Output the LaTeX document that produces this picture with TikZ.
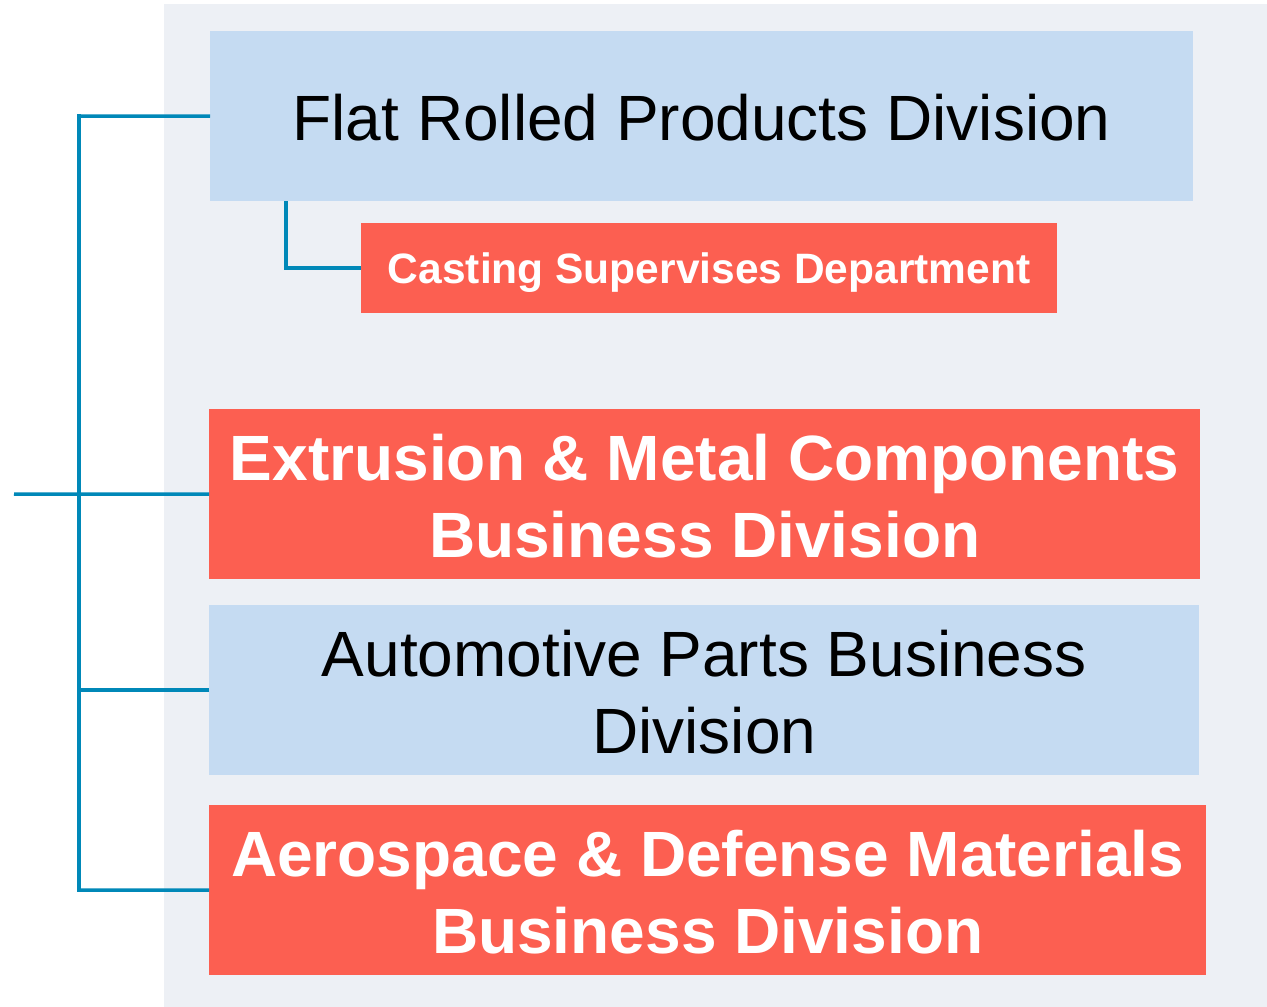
\documentclass[tikz,border=0pt]{standalone}
\usepackage{fontspec}
\setmainfont{Liberation Sans}
\definecolor{panel}{HTML}{EDF0F5}
\definecolor{lblue}{HTML}{C5DBF2}
\definecolor{lred}{HTML}{FC5F51}
\definecolor{lineblue}{HTML}{0088B8}
\begin{document}
\begin{tikzpicture}[x=1pt,y=-1pt,
  box/.style={rectangle, inner sep=0pt, anchor=north west},
  bluebox/.style={box, fill=lblue},
  redbox/.style={box, fill=lred},
  txt/.style={inner sep=0pt, align=center},
  bluetxt/.style={txt, text=black, font=\fontsize{64}{77}\selectfont},
  redtxt/.style={txt, text=white, font=\fontsize{64}{77}\selectfont\bfseries},
  smalltxt/.style={txt, text=white, font=\fontsize{42.5}{50}\selectfont\bfseries},
  conn/.style={draw=lineblue, line width=3.5pt}]
\useasboundingbox (0,0) rectangle (1267,1007);
\fill[white] (0,0) rectangle (1267,1007);
\fill[panel] (164,4) rectangle (1267,1007);

\node[bluebox, minimum width=983pt, minimum height=170pt] (flat) at (210,31) {};
\node[redbox, minimum width=696pt, minimum height=90pt] (cast) at (361,223) {};
\node[redbox, minimum width=991pt, minimum height=170pt] (ext) at (209,409) {};
\node[bluebox, minimum width=990pt, minimum height=170pt] (auto) at (209,605) {};
\node[redbox, minimum width=997pt, minimum height=170pt] (aero) at (209,805) {};

\node[bluetxt, yshift=-1.5pt] (flatt) at (flat.center) {Flat Rolled Products Division};
\node[smalltxt, yshift=-4.5pt] (castt) at (cast.center) {Casting Supervises Department};
\node[redtxt, yshift=-2pt] (extt) at (ext.center) {Extrusion \& Metal Components\\Business Division};
\node[bluetxt, yshift=-2pt] (autot) at (auto.center) {Automotive Parts Business\\Division};
\node[redtxt, yshift=-2pt] (aerot) at (aero.center) {Aerospace \& Defense Materials\\Business Division};

\coordinate (top) at (79,116);
\coordinate (bot) at (79,890);
\coordinate (root) at (14,494);

\draw[conn, line cap=rect] (top) -- (bot);
\draw[conn] (flat.west) -- (top);
\draw[conn] (root) -- (ext.west);
\draw[conn] (auto.west) -- (auto.west -| top);
\draw[conn] (aero.west) -- (bot);
\draw[conn] ([xshift=76pt]flat.south west) |- (cast.west);
\end{tikzpicture}
\end{document}
